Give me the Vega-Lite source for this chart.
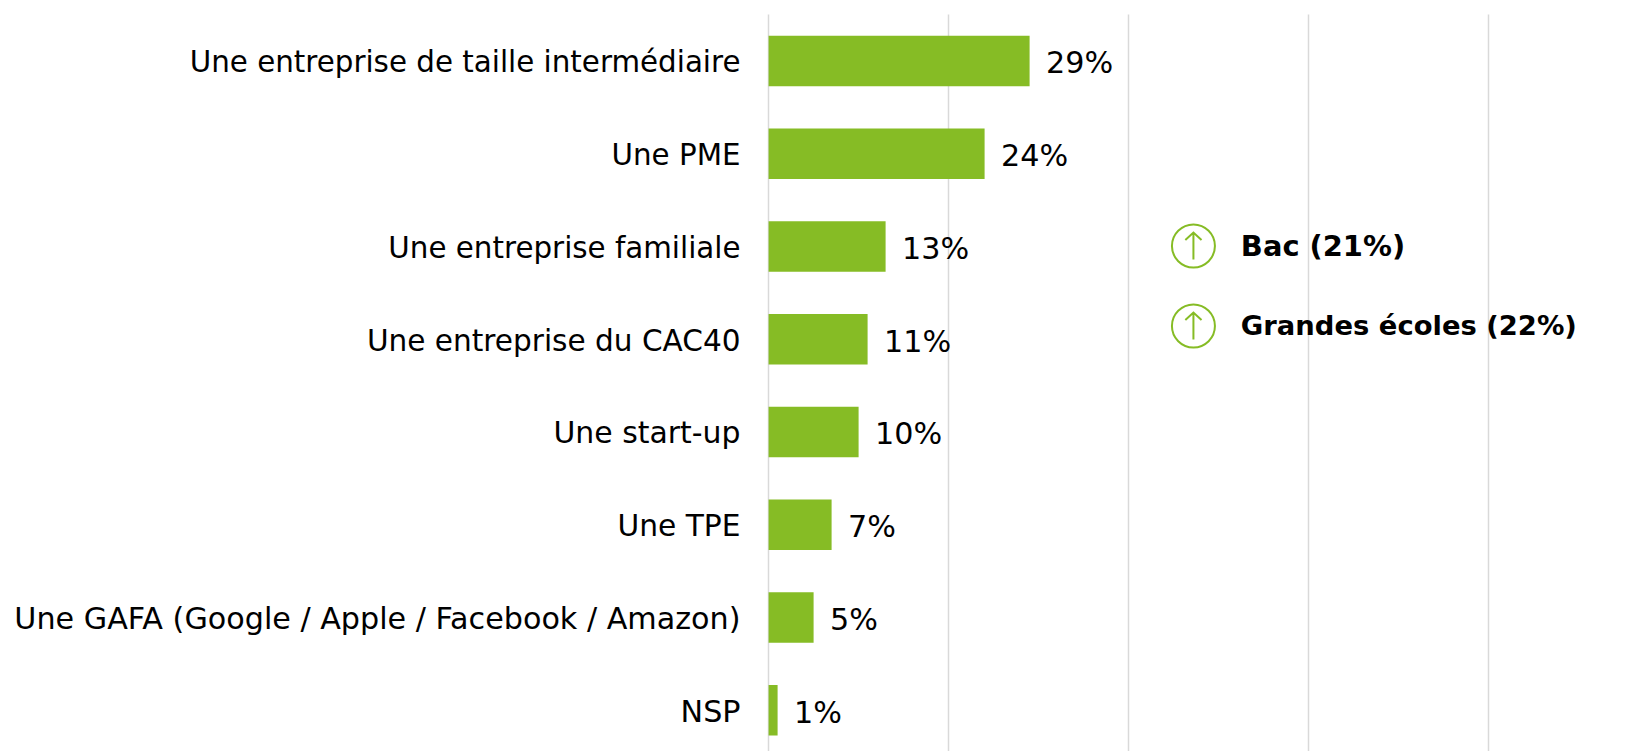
{
  "$schema": "https://vega.github.io/schema/vega-lite/v6.json",
  "width": 720,
  "height": 737,
  "autosize": {"type": "none"},
  "padding": {"left": 768, "top": 14, "right": 161, "bottom": 0},
  "background": "white",
  "config": {"view": {"stroke": null}, "font": "DejaVu Sans"},
  "datasets": {
    "bars": [
      {"categorie": "Une entreprise de taille intermédiaire", "part": 0.29},
      {"categorie": "Une PME", "part": 0.24},
      {"categorie": "Une entreprise familiale", "part": 0.13},
      {"categorie": "Une entreprise du CAC40", "part": 0.11},
      {"categorie": "Une start-up", "part": 0.10},
      {"categorie": "Une TPE", "part": 0.07},
      {"categorie": "Une GAFA (Google / Apple / Facebook / Amazon)", "part": 0.05},
      {"categorie": "NSP", "part": 0.01}
    ],
    "notes": [
      {"label": "Bac (21%)", "rang": 0, "pos": 0.4727, "posTexte": 0.5254},
      {"label": "Grandes écoles (22%)", "rang": 1, "pos": 0.4727, "posTexte": 0.5254}
    ]
  },
  "layer": [
    {
      "data": {"name": "bars"},
      "layer": [
        {
          "mark": {"type": "bar", "color": "#86BC25", "xOffset": 0.6, "yOffset": 0.5},
          "encoding": {
            "y": {
              "field": "categorie", "type": "nominal", "sort": null, "title": null,
              "scale": {"paddingInner": 0.4555, "paddingOuter": 0.2, "align": 0.57},
              "axis": {"domain": false, "ticks": false, "grid": false, "labelFont": "DejaVu Sans", "labelFontSize": {"expr": "indexof(['Une entreprise de taille intermédiaire','Une PME','Une entreprise familiale'], datum.label) >= 0 ? 29.35 : datum.label == 'Une entreprise du CAC40' ? 29.55 : datum.label == 'Une start-up' ? 29.9 : datum.label == 'Une TPE' ? 29.7 : 30.2"}, "labelColor": "#000000", "labelPadding": 28, "labelLimit": 800, "labelOffset": 3}
            },
            "x": {
              "field": "part", "type": "quantitative", "title": null,
              "scale": {"domain": [0, 0.8], "nice": false},
              "axis": {"values": [0, 0.2, 0.4, 0.6, 0.8], "labels": false, "domain": false, "ticks": false, "grid": true, "gridColor": "#D9D9D9", "gridWidth": 1.5}
            }
          }
        },
        {
          "mark": {"type": "text", "align": "left", "baseline": "middle", "dx": 17, "dy": 4, "fontSize": 30.2, "font": "DejaVu Sans", "color": "#000000"},
          "encoding": {
            "y": {"field": "categorie", "type": "nominal", "sort": null},
            "x": {"field": "part", "type": "quantitative"},
            "text": {"field": "part", "type": "quantitative", "format": ".0%"}
          }
        }
      ]
    },
    {
      "data": {"name": "notes"},
      "encoding": {
        "y": {"field": "rang", "type": "quantitative", "axis": null, "scale": {"domain": [-2.9, 6.3125], "reverse": true, "nice": false, "zero": false}}
      },
      "layer": [
        {
          "mark": {"type": "point", "shape": "circle", "size": 1849, "filled": false, "stroke": "#86BC25", "strokeWidth": 2, "opacity": 1},
          "encoding": {"x": {"field": "pos", "type": "quantitative"}}
        },
        {
          "mark": {"type": "point", "shape": "M0,-1L0,1M-0.6,-0.45L0,-1L0.6,-0.45", "size": 729, "filled": false, "stroke": "#86BC25", "strokeWidth": 2, "opacity": 1},
          "encoding": {"x": {"field": "pos", "type": "quantitative"}}
        },
        {
          "mark": {"type": "text", "align": "left", "baseline": "middle", "dy": 1, "fontSize": {"expr": "datum.label == 'Bac (21%)' ? 28.9 : 27.4"}, "fontWeight": "bold", "font": "DejaVu Sans", "color": "#000000"},
          "encoding": {
            "x": {"field": "posTexte", "type": "quantitative"},
            "text": {"field": "label", "type": "nominal"}
          }
        }
      ]
    }
  ],
  "resolve": {"scale": {"y": "independent"}}
}
